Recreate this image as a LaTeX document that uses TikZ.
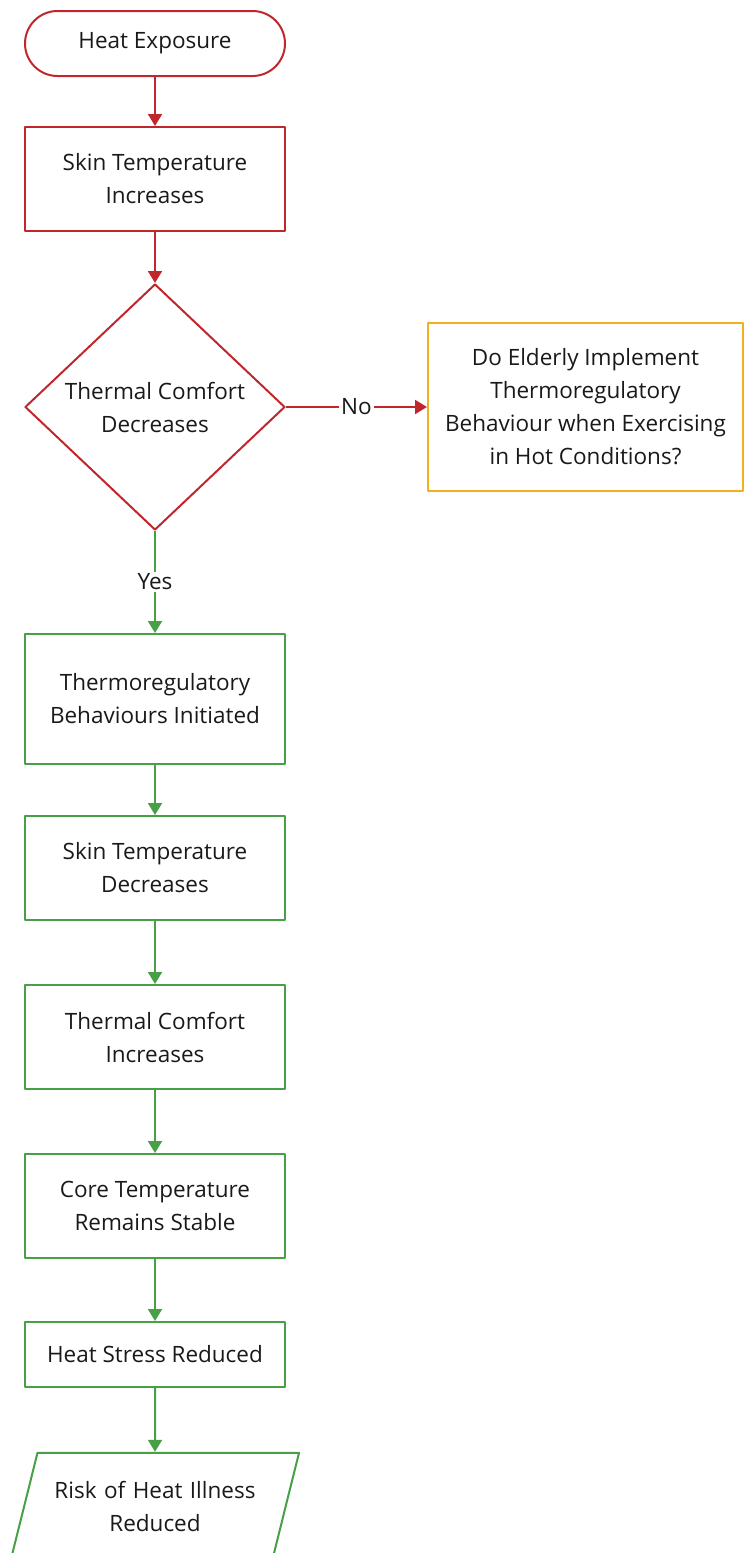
\documentclass[tikz,border=0pt]{standalone}
\usepackage{fontspec}
\setmainfont{Open Sans}
\usetikzlibrary{shapes.geometric,arrows.meta}
\definecolor{flowred}{RGB}{192,39,45}
\definecolor{flowgreen}{RGB}{72,160,70}
\definecolor{floworange}{RGB}{240,176,32}
\begin{document}
\begin{tikzpicture}[x=1pt, y=-1pt, line width=2pt, line join=round,
  font=\fontsize{22.5}{33}\selectfont, >={Triangle[width=14pt,length=12pt]},
  every node/.style={align=center, text=black!90},
  startbox/.style={draw=flowred, rounded corners=32.5pt, minimum width=260pt, minimum height=65pt},
  redbox/.style={draw=flowred, minimum width=260pt, minimum height=104pt},
  greenbox/.style={draw=flowgreen, minimum width=260pt, minimum height=104pt},
  decision/.style={draw=flowred, diamond, inner sep=0pt, minimum width=260pt, minimum height=246pt},
  askbox/.style={draw=floworange, minimum width=315pt, minimum height=168pt},
  riskbox/.style={draw=flowgreen, trapezium, trapezium left angle=76, trapezium right angle=104,
    text width=215pt, inner xsep=10pt, inner ysep=28pt},
  redline/.style={draw=flowred, ->},
  greenline/.style={draw=flowgreen, ->}]
\useasboundingbox (0,0) rectangle (744,1553);
\clip (0,0) rectangle (744,1553);
% nodes
\node[startbox] (heat) at (155,43.5) {Heat Exposure};
\node[redbox] (skinup) at (155,179) {Skin Temperature\\Increases};
\node[decision] (comfdown) at (155,407) {};
\node (comfdowntxt) at (comfdown) {Thermal Comfort\\Decreases};
\node[askbox] (ask) at (585.5,407) {Do Elderly Implement\\Thermoregulatory\\Behaviour when Exercising\\in Hot Conditions?};
\node[greenbox, minimum height=130pt] (behav) at (155,699) {Thermoregulatory\\Behaviours Initiated};
\node[greenbox] (skindown) at (155,868) {Skin Temperature\\Decreases};
\node[greenbox] (comfup) at (155,1037) {Thermal Comfort\\Increases};
\node[greenbox] (core) at (155,1206) {Core Temperature\\Remains Stable};
\node[greenbox, minimum height=65pt] (stress) at (155,1354.5) {Heat Stress Reduced};
\node[riskbox] (risk) at (155,1506) {Risk of Heat Illness\\Reduced};
% connectors
\draw[redline] (heat) -- (skinup);
\draw[redline] (skinup) -- (comfdown.north);
\draw[redline] (comfdown.east) -- node[fill=white, inner sep=2pt] {No} (ask.west);
\draw[greenline] (comfdown.south) -- node[fill=white, inner sep=2pt] {Yes} (behav);
\draw[greenline] (behav) -- (skindown);
\draw[greenline] (skindown) -- (comfup);
\draw[greenline] (comfup) -- (core);
\draw[greenline] (core) -- (stress);
\draw[greenline] (stress) -- (risk);
\end{tikzpicture}
\end{document}
